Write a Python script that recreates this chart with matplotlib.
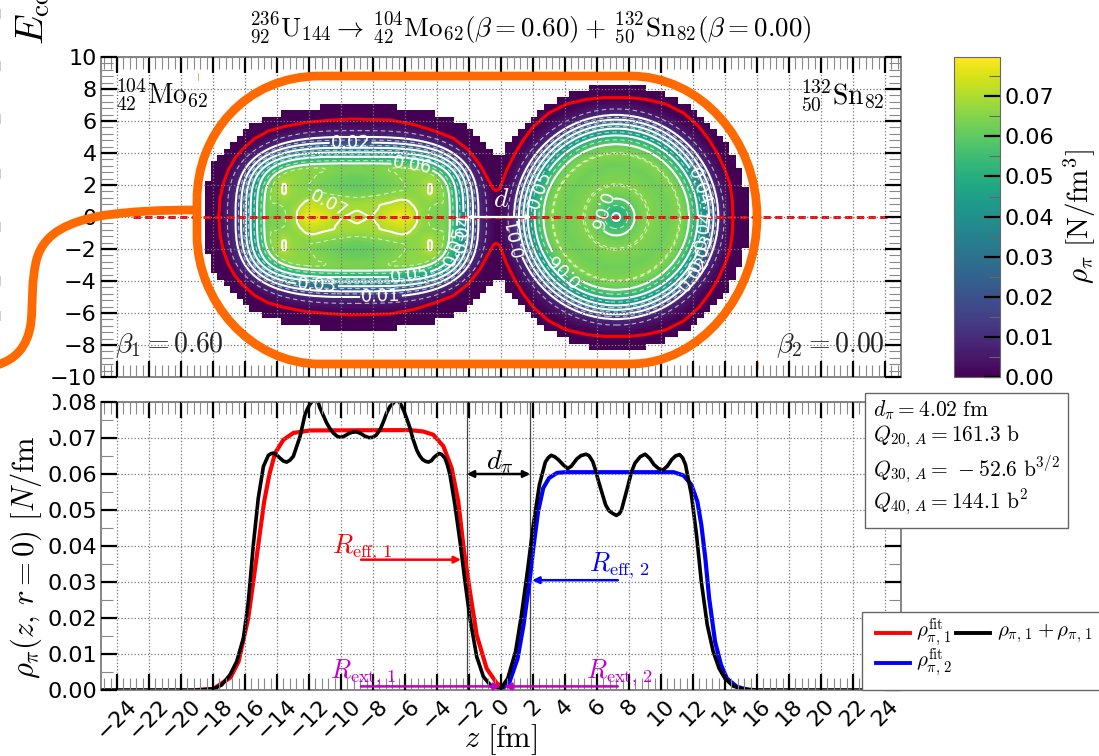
import numpy as np
import matplotlib
matplotlib.use('Agg')
import matplotlib.pyplot as plt
import matplotlib.tri as mtri
from matplotlib.lines import Line2D
from matplotlib.patches import PathPatch, Rectangle
from matplotlib.path import Path
from matplotlib.ticker import AutoMinorLocator, MultipleLocator, FormatStrFormatter
from matplotlib.transforms import Affine2D

plt.rcParams['mathtext.fontset'] = 'cm'
plt.rcParams['font.family'] = 'DejaVu Sans'

W, H = 1099, 756

# black line, sum of the fragments, lower panel
sum_z = [-25, -19, -17.98, -17.46, -16.94, -16.52, -16.1, -15.79, -15.48, -15.17, -14.85, -14.54, -14.35, -14.19,
         -14.0, -13.81, -13.6, -13.4, -13.2, -12.98, -12.56, -12.4, -12.25, -12.1, -11.94, -11.8, -11.63, -11.45,
         -11.31, -10.9, -10.7, -10.48, -10.25, -10.02, -9.8, -9.54, -9.3, -9.02, -8.75, -8.5, -8.25, -8.02, -7.8,
         -7.56, -7.35, -7.15, -6.95, -6.73, -6.6, -6.42, -6.25, -6.06, -5.9, -5.69, -5.5, -5.27, -5.1, -4.9, -4.7,
         -4.54, -4.35, -4.19, -4.0, -3.85, -3.7, -3.5, -3.35, -3.19, -2.88, -2.56, -2.25, -1.94, -1.52, -1.1, -0.58,
         0, 0.42, 0.91, 1.28, 1.65, 2.02, 2.4, 2.77, 2.95, 3.14, 3.35, 3.58, 3.9, 4.17, 4.4, 4.74, 5.0, 5.31, 5.5,
         5.73, 5.9, 6.1, 6.54, 6.75, 6.96, 7.21, 7.4, 7.53, 7.95, 8.15, 8.37, 8.7, 9.01, 9.3, 9.56, 9.85, 10.12,
         10.4, 10.67, 10.9, 11.16, 11.35, 11.53, 11.9, 12.22, 12.52, 12.89, 13.26, 13.63, 14, 14.5, 15.1, 16, 25]
sum_rho = [0, 0, 0.0003, 0.0014, 0.0042, 0.0079, 0.0144, 0.0246, 0.0403, 0.0533, 0.0621, 0.0652, 0.0657, 0.0658,
           0.0652, 0.0644, 0.0636, 0.0633, 0.0638, 0.0649, 0.0704, 0.0735, 0.0765, 0.0781, 0.0794, 0.0802, 0.0806,
           0.0802, 0.0783, 0.0742, 0.0727, 0.0714, 0.0705, 0.0702, 0.0705, 0.0712, 0.0716, 0.0717, 0.0712, 0.0705,
           0.0701, 0.0702, 0.0708, 0.0723, 0.0745, 0.0769, 0.0787, 0.0797, 0.0804, 0.0806, 0.0792, 0.0774, 0.0755,
           0.0728, 0.0697, 0.0667, 0.0652, 0.064, 0.0635, 0.0633, 0.0637, 0.0646, 0.0653, 0.0657, 0.0654, 0.0644,
           0.0625, 0.0598, 0.0514, 0.0412, 0.0301, 0.0199, 0.0093, 0.0037, 0.0009, 0.0005, 0.0032, 0.0107, 0.0209,
           0.0329, 0.0459, 0.057, 0.0633, 0.0645, 0.0652, 0.0648, 0.064, 0.0625, 0.0615, 0.0622, 0.0642, 0.0651,
           0.0655, 0.0651, 0.0635, 0.0612, 0.0579, 0.0514, 0.0498, 0.0491, 0.0485, 0.049, 0.05, 0.057, 0.0605, 0.063,
           0.0648, 0.0655, 0.0643, 0.0626, 0.0615, 0.0611, 0.0622, 0.064, 0.065, 0.0654, 0.0645, 0.0626, 0.0542,
           0.0431, 0.0301, 0.0181, 0.0107, 0.006, 0.0032, 0.0011, 0.0003, 0, 0]

# red fit
fit1_z = [-19, -17.98, -16.9, -16.4, -15.8, -15.48, -15.17, -14.8, -14.48, -14.12, -13.6, -12.98, -11.94, -5.69,
          -4.85, -4.23, -3.6, -3.08, -2.67, -2.31, -1.94, -1.52, -0.9, -0.27, 0.15]
fit1_rho = [0, 0.0003, 0.0035, 0.0079, 0.0199, 0.0301, 0.0403, 0.0524, 0.0598, 0.0658, 0.0695, 0.0714, 0.0721,
            0.0722, 0.0718, 0.0709, 0.0677, 0.0616, 0.0524, 0.0385, 0.0273, 0.0153, 0.006, 0.0019, 0.0005]

# blue fit
fit2_z = [0, 0.54, 1.04, 1.41, 1.78, 2.02, 2.32, 2.64, 3.01, 3.5, 4.0, 10.79, 11.41, 11.9, 12.27, 12.52, 12.77,
          13.01, 13.38, 13.75, 14.12, 14.74, 15.48]
fit2_rho = [0.0003, 0.0023, 0.0088, 0.0181, 0.0301, 0.0394, 0.0496, 0.0561, 0.0589, 0.0603, 0.0605, 0.0605, 0.0596,
            0.057, 0.0524, 0.0459, 0.0366, 0.0255, 0.0134, 0.007, 0.0032, 0.0009, 0]

# red outline of the density, upper half only
edge_z = [-17.7, -17.63, -17.56, -17.35, -17.04, -16.63, -16.1, -15.37, -14.54, -13.6, -12.14, -10.48, -9.44, -9.02,
          -6.94, -5.48, -4.02, -2.98, -2.04, -1.31, -0.79, -0.48, -0.31, -0.1, 0.04, 0.36, 0.88, 1.39, 2.02, 2.96,
          4.1, 5.35, 6.4, 7.2, 8.0, 9.05, 10.3, 11.44, 12.38, 13.01, 13.52, 14.0, 14.3, 14.45, 14.5]
edge_r = [0, 0.12, 1.17, 2.1, 2.94, 3.67, 4.29, 4.92, 5.37, 5.64, 5.92, 6.06, 6.12, 6.12, 6.06, 5.79, 5.33, 4.92,
          4.19, 3.25, 2.31, 1.75, 1.65, 1.75, 2.1, 2.94, 3.98, 4.81, 5.64, 6.48, 7.06, 7.35, 7.46, 7.46, 7.46, 7.35,
          7.06, 6.48, 5.64, 4.81, 3.98, 2.94, 2.1, 1.1, 0]

# half height of the coloured block in each 0.4 fm column, first column starts at z = -18.5
block_half = [2.3, 3.5, 3.9, 4.3, 4.7, 5.1, 5.5, 5.9, 5.9, 6.3, 6.3, 6.3] + [6.7] * 6 + [7.1] * 12 + [6.7] * 6 + \
             [6.3] * 3 + [5.9, 5.9, 5.5, 5.1, 4.7, 4.3, 3.9, 3.9, 4.7, 5.1, 5.5, 5.9, 6.3, 6.7, 7.1, 7.1, 7.5, 7.5] + \
             [7.9] * 3 + [8.3] * 9 + [7.9] * 3 + [7.5, 7.5, 7.1, 7.1, 6.7, 6.3, 5.9, 5.5, 5.1, 4.7, 3.9, 3.1, 1.9]

# fragment 1: size of each contour, read along the axes
frag1_levels = [0, 0.005, 0.01, 0.02, 0.03, 0.04, 0.05, 0.06]
frag1_a = [8.75, 8.1, 7.58, 7.25, 6.95, 6.65, 6.25, 5.8]
frag1_b = [6.1, 5.4, 5.0, 4.65, 4.33, 4.04, 3.77, 3.35]
frag1_n = [2.6, 2.8, 3.0, 3.2, 3.4, 3.6, 3.8, 4]

# fragment 1: density inside the 0.06 contour, columns are |z + 9|, rows are |r|
inner_dz = [0, 1, 2, 3, 4, 4.6, 5, 6]
inner_r = [0, 0.5, 1, 1.5, 2, 2.5, 3, 4]
inner_rho = [[0.0717, 0.0701, 0.0755, 0.0780, 0.0675, 0.0645, 0.0637, 0.0652],
             [0.0695, 0.0692, 0.0725, 0.0745, 0.0672, 0.0648, 0.0640, 0.0650],
             [0.0670, 0.0680, 0.0692, 0.0706, 0.0660, 0.0665, 0.0655, 0.0648],
             [0.0625, 0.0635, 0.0650, 0.0655, 0.0670, 0.0702, 0.0670, 0.0650],
             [0.0605, 0.0615, 0.0630, 0.0650, 0.0670, 0.0702, 0.0670, 0.0650],
             [0.0615, 0.0625, 0.0640, 0.0655, 0.0665, 0.0670, 0.0665, 0.0640],
             [0.0640, 0.0640, 0.0650, 0.0655, 0.0660, 0.0655, 0.0655, 0.0620],
             [0.0600, 0.0600, 0.0600, 0.0600, 0.0600, 0.0600, 0.0600, 0.0600]]

# fragment 2: density against distance from its centre
frag2_d = [0, 0.25, 0.6, 1.15, 1.6, 2, 2.6, 3.2, 4, 4.55, 5.1, 5.53, 5.8, 6.08, 6.37, 6.75, 7.4]
frag2_rho = [0.0487, 0.05, 0.0535, 0.06, 0.0635, 0.0652, 0.0635, 0.0622, 0.0652, 0.06, 0.05, 0.04, 0.03, 0.02, 0.01,
             0.005, 0]

solid_levels = [0.01, 0.02, 0.03, 0.04, 0.05, 0.06, 0.07]
dashed_levels = [0.005, 0.015, 0.025, 0.035, 0.045, 0.055, 0.065]
label_spots = [(-9.4, 4.65), (-5.6, 2.9), (-10.8, 0.6), (-5.7, -3.7), (-11.5, -4.33), (-7.5, -5.0), (-2.35, -1.0),
               (-2.7, -1.9), (2.5, 1.7), (6.1, 0.33), (0.95, -1.25), (4.1, -3.1), (12.4, 1.9), (12.7, -0.8),
               (12.6, -2.25), (12.0, -3.5)]
flipped_labels = [9, 10, 11]

info_lines = [r'$d_{\pi}=4.02\ \mathrm{fm}$', r'$Q_{20,\,A}=161.3\ \mathrm{b}$',
              r'$Q_{30,\,A}=\,-52.6\ \mathrm{b}^{3/2}$', r'$Q_{40,\,A}=144.1\ \mathrm{b}^{2}$']
info_y = [410, 437, 470, 503]

legend_lines = [(876, 910, 633, '#ff0000'), (956, 990, 633, 'k'), (876, 910, 663, '#0000ff')]
legend_texts = [(916, 633, r'$\rho_{\pi,\,1}^{\mathrm{fit}}$'), (997, 633, r'$\rho_{\pi,\,1}+\rho_{\pi,\,1}$'),
                (916, 663, r'$\rho_{\pi,\,2}^{\mathrm{fit}}$')]

orange = '#ff6a00'


def px_axes(fig, left, right, top, bottom):
    return fig.add_axes([left / W, 1 - bottom / H, (right - left) / W, (bottom - top) / H])


def style_axes(ax, ny_minor):
    ax.xaxis.set_major_locator(MultipleLocator(2))
    ax.xaxis.set_minor_locator(AutoMinorLocator(5))
    ax.yaxis.set_minor_locator(AutoMinorLocator(ny_minor))
    ax.tick_params(which='major', direction='in', top=True, right=True, length=11.5, width=1.6, color='k',
                   labelsize=16, pad=3)
    ax.tick_params(which='minor', direction='in', top=True, right=True, length=8.6, width=0.8, color='#888888')
    ax.grid(True, which='major', ls=':', color='#777777', lw=0.9)
    ax.set_axisbelow(False)
    for s in ax.spines.values():
        s.set_color('#666666')
        s.set_linewidth(1.1)


def density_map():
    z = np.arange(-25, 25.001, 0.05)
    r = np.arange(-10, 10.001, 0.05)
    Z, R = np.meshgrid(z, r)

    # fragment 1, nested contours, then the table in the middle
    u, v = np.abs(Z + 9.0), np.abs(R)
    f = [(u / a) ** n + (v / b) ** n for a, b, n in zip(frag1_a, frag1_b, frag1_n)]
    rho1 = np.zeros_like(Z)
    for k in range(len(f) - 1):
        band = (f[k] < 1) & (f[k + 1] >= 1)
        frac = (1 - f[k][band]) / (f[k + 1][band] - f[k][band])
        rho1[band] = frag1_levels[k] + frac * (frag1_levels[k + 1] - frag1_levels[k])

    dz_all = np.array(inner_dz, dtype=float)
    r_all = np.array(inner_r, dtype=float)
    table = np.array(inner_rho)
    dz_all = np.concatenate([-dz_all[:0:-1], dz_all])
    table = np.hstack([table[:, :0:-1], table])
    r_all = np.concatenate([-r_all[:0:-1], r_all])
    table = np.vstack([table[:0:-1], table])
    TZ, TR = np.meshgrid(dz_all, r_all)
    tri = mtri.Triangulation(TZ.ravel(), TR.ravel())
    interp = mtri.CubicTriInterpolator(tri, table.ravel(), kind='geom')
    inside = f[-1] < 1
    values = interp(np.clip(u[inside], 0, 6), np.clip(v[inside], 0, 4)).filled(0.06)
    rho1[inside] = 0.06 + (values - 0.06) * np.clip((1 - f[-1][inside]) * 4, 0, 1)

    # fragment 2
    d = np.hypot(Z - 7.2, R)
    rho2 = np.interp(d, frag2_d, frag2_rho, right=0)
    rho = np.maximum(rho1, rho2)

    col = np.floor((Z + 18.52) / 0.4).astype(int)
    heights = np.array(block_half)
    good = (col >= 0) & (col < len(heights))
    keep = np.zeros_like(Z, dtype=bool)
    keep[good] = np.abs(R[good]) < heights[col[good]]
    return z, r, rho, keep


def draw_top(fig):
    ax = px_axes(fig, 101, 901, 57, 377)
    z, r, rho, keep = density_map()
    mesh = ax.pcolormesh(z, r, np.ma.array(rho, mask=~keep), cmap='viridis', vmin=0, vmax=0.0798,
                         shading='nearest', rasterized=True)
    ax.contour(z, r, rho, levels=dashed_levels, colors='white', linewidths=0.8,
               linestyles=[(0, (4, 3))] * len(dashed_levels), alpha=0.65)
    cs = ax.contour(z, r, rho, levels=solid_levels, colors='white', linewidths=1.5, linestyles='solid')
    labels = ax.clabel(cs, fmt='%.2f', fontsize=13, inline=True, inline_spacing=1, manual=label_spots)
    for i in flipped_labels:
        labels[i].set_rotation(labels[i].get_rotation() + 180)

    edge_x = np.array(edge_z)
    edge_y = np.array(edge_r)
    ax.plot(np.r_[edge_x, edge_x[::-1]], np.r_[edge_y, -edge_y[::-1]], color='#ff0000', lw=2.2)
    ax.plot([-23, 24.2], [0, 0], color='#ff0000', lw=2.1, dashes=(2.5, 1.5))
    ax.annotate('', xy=(1.9, 0), xytext=(-2.1, 0), arrowprops=dict(arrowstyle='<|-|>', color='white', lw=1.6,
                                                                   shrinkA=0, shrinkB=0, mutation_scale=6))
    ax.text(0.0, 1.15, r'$d$', color='white', fontsize=20, ha='center', va='center')

    ax.text(-24.1, 7.6, r'$^{104}_{42}\mathrm{Mo}_{62}$', fontsize=20, ha='left', va='center')
    ax.text(24.0, 7.6, r'$^{132}_{50}\mathrm{Sn}_{82}$', fontsize=20, ha='right', va='center')
    ax.text(-24.1, -8.0, r'$\beta_{1}=0.60$', fontsize=20, ha='left', va='center', color='#222222')
    ax.text(24.0, -8.0, r'$\beta_{2}=0.00$', fontsize=20, ha='right', va='center', color='#222222')

    ax.set_xlim(-25, 25)
    ax.set_ylim(-10, 10)
    ax.yaxis.set_major_locator(MultipleLocator(2))
    style_axes(ax, 5)
    ax.tick_params(labelbottom=False)
    ax.set_xticks(np.arange(-24, 25, 2))
    return ax, mesh


def draw_bottom(fig):
    ax = px_axes(fig, 101, 901, 402, 690)
    ax.axvline(-2.14, color='#444444', lw=0.9)
    ax.axvline(1.83, color='#444444', lw=0.9)
    ax.plot(fit1_z, fit1_rho, color='#ff0000', lw=3)
    ax.plot(fit2_z, fit2_rho, color='#0000ff', lw=3)
    ax.plot(sum_z, sum_rho, color='k', lw=2.6)

    arrows = [((-2.14, 0.06), (1.83, 0.06), 'k', '<|-|>'),
              ((-8.75, 0.0362), (-2.5, 0.0362), '#ff0000', '-|>'),
              ((7.3, 0.0305), (1.95, 0.0305), '#0000ff', '-|>'),
              ((-8.75, 0.001), (0.0, 0.001), '#bf00bf', '-|>'),
              ((7.3, 0.001), (0.2, 0.001), '#bf00bf', '-|>')]
    for start, end, col, style in arrows:
        ax.annotate('', xy=end, xytext=start, arrowprops=dict(arrowstyle=style, color=col, lw=1.8, shrinkA=0,
                                                              shrinkB=0, mutation_scale=10))
    ax.text(-0.05, 0.0635, r'$d_{\pi}$', fontsize=20, ha='center', va='center')
    ax.text(-8.7, 0.0395, r'$R_{\mathrm{eff},\,1}$', fontsize=19, color='#ff0000', ha='center', va='center')
    ax.text(7.4, 0.0345, r'$R_{\mathrm{eff},\,2}$', fontsize=19, color='#0000ff', ha='center', va='center')
    ax.text(-8.6, 0.0048, r'$R_{\mathrm{ext},\,1}$', fontsize=19, color='#c000c8', ha='center', va='center')
    ax.text(7.4, 0.0048, r'$R_{\mathrm{ext},\,2}$', fontsize=19, color='#c000c8', ha='center', va='center')

    ax.set_xlim(-25, 25)
    ax.set_ylim(0, 0.08)
    ax.set_xticks(np.arange(-24, 25, 2))
    ax.yaxis.set_major_locator(MultipleLocator(0.01))
    ax.yaxis.set_major_formatter(FormatStrFormatter('%.2f'))
    style_axes(ax, 2)
    ax.tick_params(axis='x', which='major', rotation=45, pad=4)
    return ax


def draw_colorbar(fig, mesh):
    cax = px_axes(fig, 954, 1000, 57, 377)
    cb = fig.colorbar(mesh, cax=cax)
    cb.set_ticks(np.arange(0, 0.071, 0.01))
    cb.ax.yaxis.set_major_formatter(FormatStrFormatter('%.2f'))
    cb.ax.yaxis.set_minor_locator(MultipleLocator(0.005))
    cb.ax.tick_params(which='major', direction='in', length=11.5, width=1.6, color='k', labelsize=16, pad=3)
    cb.ax.tick_params(which='minor', direction='in', length=8, width=0.8, color='#666666')
    cb.outline.set_edgecolor('#666666')
    fig.text(1080 / W, 1 - 217 / H, r'$\rho_{\pi}\ [\mathrm{N}/\mathrm{fm}^{3}]$', fontsize=21, rotation=90,
             ha='center', va='center')


def draw_overlay(fig):
    px = Affine2D().scale(1, -1).translate(0, H)

    loop_v = [(320, 76), (630, 76), (700, 76), (757, 139), (757, 217), (757, 295), (700, 364), (630, 364),
              (320, 364), (250, 364), (197, 300), (197, 235), (197, 200), (197, 135), (245, 76), (320, 76)]
    loop_c = [Path.MOVETO, Path.LINETO, Path.CURVE4, Path.CURVE4, Path.CURVE4, Path.CURVE4, Path.CURVE4, Path.CURVE4,
              Path.LINETO, Path.CURVE4, Path.CURVE4, Path.CURVE4, Path.LINETO, Path.CURVE4, Path.CURVE4, Path.CURVE4]
    tail_v = [(-3, 365), (14, 360), (28, 348), (31, 322), (33, 305), (31, 280), (37, 258), (45, 232), (70, 222),
              (100, 216), (130, 211), (165, 210), (197, 210)]
    tail_c = [Path.MOVETO] + [Path.CURVE4] * 12
    for verts, codes in [(loop_v, loop_c), (tail_v, tail_c)]:
        fig.add_artist(PathPatch(Path(verts, codes), fill=False, edgecolor=orange, lw=6.3, transform=px,
                                 capstyle='butt', zorder=3))
    fig.add_artist(Line2D([197.5, 197.5], [73, 80], transform=px, color=orange, lw=0.6, alpha=0.7, zorder=3))
    fig.add_artist(Line2D([757.5, 757.5], [362, 368], transform=px, color=orange, lw=0.6, alpha=0.7, zorder=3))

    # left over bits of the cropped panel above
    fig.add_artist(Rectangle((0, 395), 53, 43, transform=px, facecolor='white', edgecolor='none', zorder=4))
    for y in [10, 62, 115, 170, 223, 277, 312]:
        fig.add_artist(Line2D([0, 0], [y, y + 8], transform=px, color='#cccccc', lw=1.4, zorder=4))
    fig.text(33 / W, 1 - 45 / H, r'$E_{\mathrm{coll}}$', fontsize=28, rotation=90, ha='center', va='bottom')

    # info box
    fig.add_artist(Rectangle((865, 393), 203, 135, transform=px, facecolor='white', edgecolor='#666666', lw=1.0,
                             zorder=3))
    for text, y in zip(info_lines, info_y):
        fig.text(873 / W, 1 - y / H, text, fontsize=15.5, ha='left', va='center', zorder=5)

    # legend box, runs off the right edge
    fig.add_artist(Rectangle((862, 612), 260, 78, transform=px, facecolor='white', edgecolor='#666666', lw=1.0,
                             zorder=3))
    for x0, x1, y, col in legend_lines:
        fig.add_artist(Line2D([x0, x1], [y, y], transform=px, color=col, lw=2.8, zorder=5))
    for x, y, text in legend_texts:
        fig.text(x / W, 1 - y / H, text, fontsize=15, ha='left', va='center', zorder=5)


def main():
    fig = plt.figure(figsize=(W / 100, H / 100), dpi=100)
    ax_top, mesh = draw_top(fig)
    draw_bottom(fig)
    draw_colorbar(fig, mesh)
    fig.text(530 / W, 1 - 29 / H,
             r'$^{236}_{92}\mathrm{U}_{144}\rightarrow\,^{104}_{42}\mathrm{Mo}_{62}(\beta=0.60)+'
             r'\,^{132}_{50}\mathrm{Sn}_{82}(\beta=0.00)$', fontsize=19.5, ha='center', va='center')
    fig.text(501 / W, 1 - 740 / H, r'$z\ [\mathrm{fm}]$', fontsize=22, ha='center', va='center')
    fig.text(26 / W, 1 - 548 / H, r'$\rho_{\pi}(z,\,r=0)\ [N/\mathrm{fm}^{3}]$', fontsize=22, rotation=90,
             ha='center', va='center')
    draw_overlay(fig)
    fig.savefig('out.png', dpi=100)


if __name__ == "__main__":
    main()
